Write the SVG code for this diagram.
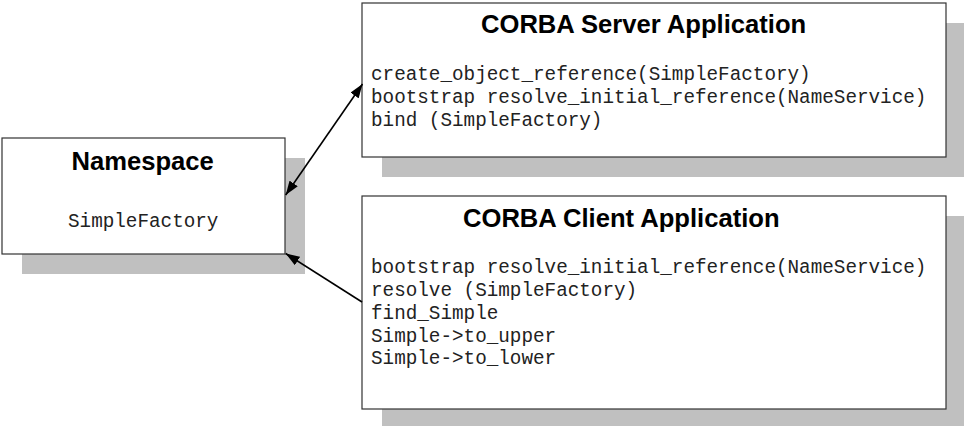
<svg xmlns="http://www.w3.org/2000/svg" width="964" height="426" viewBox="0 0 964 426">
  <style>
    .shadow { fill: #c0c0c0; }
    .box { fill: #ffffff; stroke: #333333; stroke-width: 1.2; }
    .title { font-family: "Liberation Sans", Arial, sans-serif; font-weight: bold; font-size: 25.6px; fill: #000000; }
    .code { font-family: "Liberation Mono", "Courier New", monospace; font-size: 19.3px; fill: #222222; }
    .link { stroke: #000000; stroke-width: 1.6; fill: none; }
  </style>
  <defs>
    <marker id="arrow" viewBox="0 0 14 10" refX="14" refY="5" markerWidth="14" markerHeight="10" markerUnits="userSpaceOnUse" orient="auto-start-reverse">
      <path d="M0,0 L14,5 L0,10 Z" fill="#000000"/>
    </marker>
  </defs>

  <rect width="964" height="426" fill="#ffffff"/>

  <!-- Namespace -->
  <g id="namespace">
    <rect class="shadow" x="22" y="158" width="283" height="116"/>
    <rect class="box" x="2" y="138" width="283" height="116"/>
    <text class="title" x="71.5" y="170">Namespace</text>
    <text class="code" x="68" y="227">SimpleFactory</text>
  </g>

  <!-- CORBA Server Application -->
  <g id="server">
    <rect class="shadow" x="382" y="23" width="582" height="154"/>
    <rect class="box" x="362" y="3" width="584" height="154"/>
    <text class="title" x="481" y="33">CORBA Server Application</text>
    <text class="code" x="371" y="79.5">create_object_reference(SimpleFactory)</text>
    <text class="code" x="371" y="102.5">bootstrap resolve_initial_reference(NameService)</text>
    <text class="code" x="371" y="125.5">bind (SimpleFactory)</text>
  </g>

  <!-- CORBA Client Application -->
  <g id="client">
    <rect class="shadow" x="382" y="216" width="582" height="210"/>
    <rect class="box" x="362" y="196" width="584" height="213"/>
    <text class="title" x="463" y="227">CORBA Client Application</text>
    <text class="code" x="371" y="273">bootstrap resolve_initial_reference(NameService)</text>
    <text class="code" x="371" y="296">resolve (SimpleFactory)</text>
    <text class="code" x="371" y="318.5">find_Simple</text>
    <text class="code" x="371" y="341.5">Simple-&gt;to_upper</text>
    <text class="code" x="371" y="364">Simple-&gt;to_lower</text>
  </g>

  <!-- Connectors -->
  <g id="connectors">
    <line class="link" x1="285.7" y1="195" x2="362.5" y2="84" marker-start="url(#arrow)" marker-end="url(#arrow)"/>
    <line class="link" x1="362" y1="302" x2="285.7" y2="253.5" marker-end="url(#arrow)"/>
  </g>
</svg>
